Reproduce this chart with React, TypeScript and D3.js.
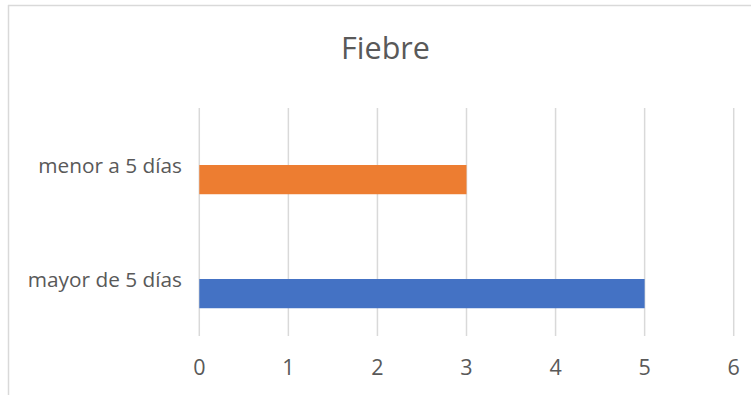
import React from "react";
import * as d3 from "d3";

// Fever duration categories (bottom to top, as the category axis runs upward)
const categories: string[] = ["mayor de 5 días", "menor a 5 días"];
const values: number[] = [5, 3];
const barColors: string[] = ["#4472C4", "#ED7D31"];
const xTicks: number[] = [0, 1, 2, 3, 4, 5, 6];
const title = "Fiebre";

const W = 751;
const H = 395;
const plot = { left: 199.3, right: 733.7, top: 108, bottom: 336 };
const FONT = "'Open Sans', 'Noto Sans', sans-serif";
const TEXT = "#595959";
const GRID = "#d9d9d9";

export default function App() {
  const x = d3.scaleLinear().domain([0, 6]).range([plot.left, plot.right]);
  // category axis runs bottom-to-top
  const y = d3
    .scaleBand<string>()
    .domain(categories)
    .range([plot.bottom, plot.top])
    .padding(0);
  // two series slots per category; the bar occupies the lower slot
  const gap = 1.9;
  const slotH = y.bandwidth() / (2 + gap);
  const slots = d3
    .scaleBand<number>()
    .domain([1, 0])
    .range([y.bandwidth() / 2 - slotH, y.bandwidth() / 2 + slotH])
    .padding(0);

  return (
    <svg
      width={W}
      height={H}
      style={{ position: "absolute", left: 0, top: 0, background: "#fff" }}
      fontFamily={FONT}
    >
      {/* chart frame */}
      <line x1={8} y1={5.5} x2={W} y2={5.5} stroke={GRID} strokeWidth={1.5} />
      <line x1={8.5} y1={5} x2={8.5} y2={H} stroke={GRID} strokeWidth={1.5} />

      <text
        x={385.5}
        y={58.5}
        textAnchor="middle"
        fontSize={30.5}
        fill={TEXT}
      >
        {title}
      </text>

      {/* vertical gridlines */}
      {xTicks.map((t) => (
        <line
          key={`g${t}`}
          x1={x(t)}
          x2={x(t)}
          y1={plot.top}
          y2={plot.bottom}
          stroke={GRID}
          strokeWidth={1.5}
        />
      ))}

      {/* bars */}
      {categories.map((c, i) => (
        <rect
          key={c}
          x={x(0)}
          y={(y(c) as number) + (slots(0) as number)}
          width={x(values[i]) - x(0)}
          height={slots.bandwidth()}
          fill={barColors[i]}
        />
      ))}

      {/* category labels */}
      {categories.map((c) => (
        <text
          key={`l${c}`}
          x={182}
          y={(y(c) as number) + y.bandwidth() / 2 + 7.5}
          textAnchor="end"
          fontSize={20.8}
          fill={TEXT}
        >
          {c}
        </text>
      ))}

      {/* value axis labels */}
      {xTicks.map((t) => (
        <text
          key={`t${t}`}
          x={x(t)}
          y={375}
          textAnchor="middle"
          fontSize={21.5}
          fill={TEXT}
        >
          {t}
        </text>
      ))}
    </svg>
  );
}
